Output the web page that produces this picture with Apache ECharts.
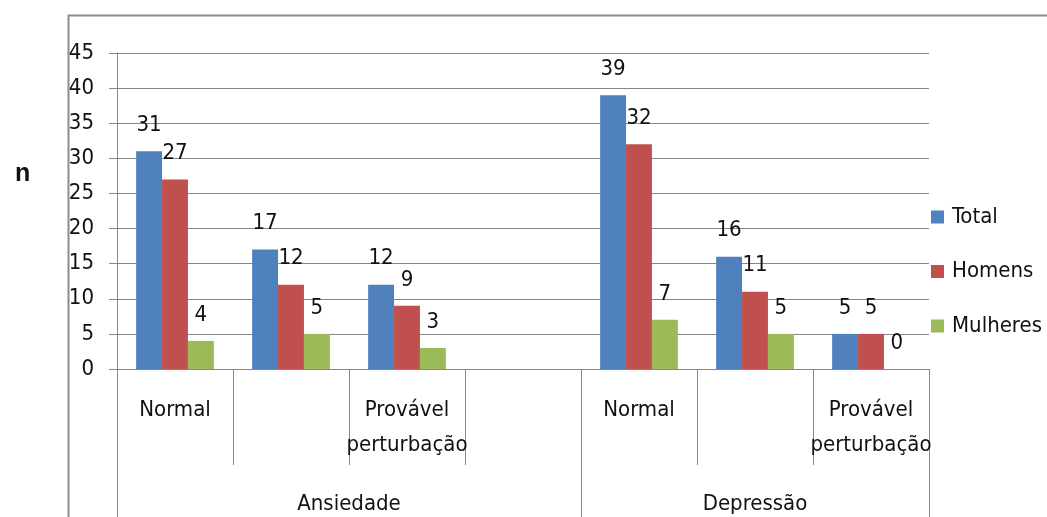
<!DOCTYPE html>
<html>
<head>
<meta charset="utf-8">
<script src="https://cdn.jsdelivr.net/npm/echarts@6/dist/echarts.min.js"></script>
<style>
html,body{margin:0;padding:0;background:#fff;}
#c{width:1047px;height:517px;}
</style>
</head>
<body>
<div id="c"></div>
<script>
// ---- data ----
const categories = ['Normal', '', 'Provável\nperturbação', '', 'Normal', '', 'Provável\nperturbação'];
const groups = ['Ansiedade', 'Depressão'];
const groupSizes = [4, 3];
const seriesNames = ['Total', 'Homens', 'Mulheres'];
const total    = [31, 17, 12, null, 39, 16, 5];
const homens   = [27, 12, 9, null, 32, 11, 5];
const mulheres = [4, 5, 3, null, 7, 5, 0];
const yTicks = [0, 5, 10, 15, 20, 25, 30, 35, 40, 45];

// group boundaries and centres derived from group sizes
const bounds = [0];
groupSizes.forEach(s => bounds.push(bounds[bounds.length - 1] + s));
const centers = groupSizes.map((s, i) => bounds[i] + s / 2);

const FONT = "'DejaVu Sans Condensed', 'Liberation Sans Narrow', sans-serif";
const FS = 22;
const GREY = '#868686';
const colors = ['#4F81BD', '#C0504D', '#9BBB59'];

const chart = echarts.init(document.getElementById('c'), null, {renderer: 'canvas'});

const labelCfg = {
  show: true, position: 'top', distance: 15,
  fontFamily: FONT, fontSize: FS, color: '#111',
  formatter: p => (p.value == null ? '' : String(p.value))
};

chart.setOption({
  animation: false,
  color: colors,
  textStyle: {fontFamily: FONT},
  title: {
    text: 'n', left: 10, top: 157,
    textStyle: {fontFamily: "'Liberation Sans', Arial, sans-serif", fontWeight: 'bold', fontSize: 25, color: '#111'}
  },
  graphic: [{
    type: 'rect', left: 66, top: 13, silent: true,
    shape: {width: 1100, height: 700},
    style: {fill: 'none', stroke: '#8c8c8c', lineWidth: 2}
  }],
  legend: {
    orient: 'vertical', left: 926, top: 200,
    icon: 'rect', itemWidth: 13, itemHeight: 13, itemGap: 30.5,
    data: seriesNames,
    textStyle: {fontFamily: FONT, fontSize: FS, lineHeight: 24, color: '#111', padding: [0, 0, 0, 3]}
  },
  grid: {left: 117, right: 118, top: 53, bottom: 148, containLabel: false, outerBoundsMode: 'none'},
  xAxis: [{
    type: 'category', data: categories, gridIndex: 0,
    axisLine: {show: true, lineStyle: {color: GREY, width: 1}},
    axisTick: {show: true, interval: 0, alignWithLabel: false, length: 96, lineStyle: {color: GREY}},
    axisLabel: {interval: 0, margin: 24, fontFamily: FONT, fontSize: FS, lineHeight: 35, color: '#111'},
    splitLine: {show: false}
  }, {
    type: 'value', gridIndex: 0, position: 'bottom', min: bounds[0], max: bounds[bounds.length - 1],
    axisLine: {show: false},
    splitLine: {show: false},
    axisTick: {show: true, customValues: bounds, length: 160, lineStyle: {color: GREY}},
    axisLabel: {
      customValues: centers, margin: 118, fontFamily: FONT, fontSize: FS, lineHeight: 35, color: '#111',
      formatter: v => { const i = centers.indexOf(v); return i >= 0 ? groups[i] : ''; }
    }
  }],
  yAxis: {
    type: 'value', min: yTicks[0], max: yTicks[yTicks.length - 1], interval: yTicks[1] - yTicks[0],
    axisLine: {show: true, lineStyle: {color: GREY}},
    axisTick: {show: true, length: 8, lineStyle: {color: GREY}},
    axisLabel: {margin: 23, fontFamily: FONT, fontSize: FS, color: '#111'},
    splitLine: {show: true, lineStyle: {color: GREY, width: 1}}
  },
  series: [
    {name: seriesNames[0], type: 'bar', xAxisIndex: 0, data: total, barGap: '0%', barCategoryGap: '33%', label: labelCfg},
    {name: seriesNames[1], type: 'bar', xAxisIndex: 0, data: homens, barGap: '0%', barCategoryGap: '33%', label: labelCfg},
    {name: seriesNames[2], type: 'bar', xAxisIndex: 0, data: mulheres, barGap: '0%', barCategoryGap: '33%', label: labelCfg}
  ]
});
</script>
</body>
</html>
